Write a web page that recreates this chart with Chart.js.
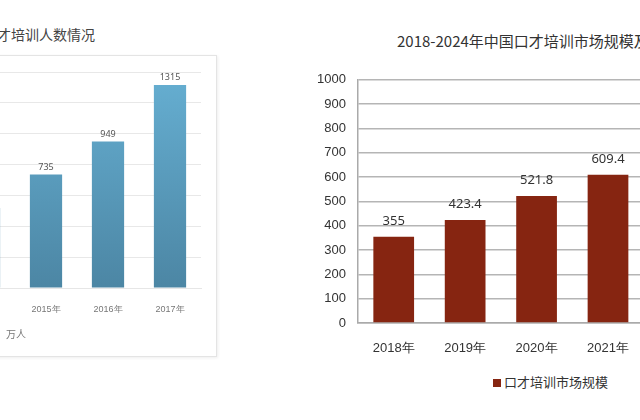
<!DOCTYPE html>
<html>
<head>
<meta charset="utf-8">
<script src="https://cdn.jsdelivr.net/npm/chart.js@4"></script>
<style>
  body { margin:0; width:640px; height:420px; overflow:hidden; background:#fff; position:relative; font-family:"Noto Sans CJK SC", sans-serif; }
  .abs { position:absolute; }
</style>
</head>
<body>
<div class="abs" style="left:-250px;top:24px;width:345px;text-align:right;font-size:14px;color:#444;">2013-2017年中国口才培训人数情况</div>
<div class="abs" style="left:-10px;top:55px;width:225px;height:300px;border:1px solid #e4e4e4;box-shadow:1px 1px 3px #eee;"></div>
<div class="abs" style="left:-47px;top:55px;width:262px;height:300px;"><canvas id="left"></canvas></div>
<div class="abs" style="left:6px;top:326px;font-size:10px;color:#777;">万人</div>

<div class="abs" style="left:397px;top:30px;white-space:nowrap;font-size:15px;color:#333;font-family:'Noto Sans CJK SC',serif;">2018-2024年中国口才培训市场规模及预测</div>
<div class="abs" style="left:295px;top:60px;width:563px;height:300px;"><canvas id="right"></canvas></div>
<div class="abs" style="left:493px;top:372px;white-space:nowrap;font-size:13px;color:#333;"><span style="display:inline-block;width:8px;height:8px;background:#862511;margin-right:3px;"></span>口才培训市场规模</div>

<script>
// 左圖：培訓人數
const leftYears = ['2014年', '2015年', '2016年', '2017年'];
const leftValues = [520, 735, 949, 1315];
// 右圖：市場規模
const rightYears = ['2018年', '2019年', '2020年', '2021年', '2022年', '2023年', '2024年'];
const rightValues = [355, 423.4, 521.8, 609.4, 702.5, 798.6, 893.2];

// 在柱子上方寫數值
const valueLabels = {
  id: 'valueLabels',
  afterDatasetsDraw(chart, args, opts) {
    const ctx = chart.ctx;
    const meta = chart.getDatasetMeta(0);
    ctx.save();
    ctx.font = opts.font;
    ctx.fillStyle = opts.color;
    ctx.textAlign = 'center';
    ctx.textBaseline = 'bottom';
    meta.data.forEach((bar, i) => {
      ctx.fillText(chart.data.datasets[0].data[i], bar.x, bar.y - opts.offset);
    });
    ctx.restore();
  }
};

new Chart(document.getElementById('left').getContext('2d'), {
  type: 'bar',
  data: {
    labels: leftYears,
    datasets: [{
      data: leftValues,
      backgroundColor: (c) => {
        const area = c.chart.chartArea;
        if (!area) return '#5a9fc2';
        const g = c.chart.ctx.createLinearGradient(0, area.top, 0, area.bottom);
        g.addColorStop(0, '#66afd2');
        g.addColorStop(1, '#4c86a4');
        return g;
      },
      barPercentage: 0.52,
      categoryPercentage: 1
    }]
  },
  plugins: [valueLabels],
  options: {
    responsive: true,
    maintainAspectRatio: false,
    animation: false,
    layout: { padding: { top: 17, right: 14 } },
    plugins: {
      legend: { display: false },
      tooltip: { enabled: false },
      valueLabels: { font: '9px "Noto Sans"', color: '#555', offset: 3 }
    },
    scales: {
      x: {
        grid: { display: false },
        border: { color: '#e6e6e6' },
        ticks: { color: '#777', font: { size: 9 }, padding: 8 },
        afterFit: (s) => { s.height = 67; }
      },
      y: {
        min: 0, max: 1400,
        ticks: { display: false, stepSize: 200 },
        border: { display: false },
        grid: { color: '#e8e8e8', drawTicks: false },
        afterFit: (s) => { s.width = 0; }
      }
    }
  }
});

new Chart(document.getElementById('right').getContext('2d'), {
  type: 'bar',
  data: {
    labels: rightYears,
    datasets: [{
      data: rightValues,
      backgroundColor: '#862511',
      barPercentage: 0.57,
      categoryPercentage: 1
    }]
  },
  plugins: [valueLabels],
  options: {
    responsive: true,
    maintainAspectRatio: false,
    animation: false,
    layout: { padding: { top: 13, right: 0, left: 0, bottom: 0 } },
    plugins: {
      legend: { display: false },
      tooltip: { enabled: false },
      valueLabels: { font: '13px "Noto Sans"', color: '#333', offset: 9 }
    },
    scales: {
      x: {
        grid: { display: false },
        border: { color: '#aaa', width: 1.5 },
        ticks: { color: '#333', font: { size: 13 }, padding: 10 },
        afterFit: (s) => { s.height = 37; }
      },
      y: {
        min: 0, max: 1000,
        ticks: { stepSize: 100, color: '#333', font: { size: 13 }, padding: 12, callback: (v) => String(v) },
        border: { color: '#aaa', width: 1.5 },
        grid: { color: '#b5b5b5', lineWidth: 1.5, drawTicks: false },
        afterFit: (s) => { s.width = 63; }
      }
    }
  }
});
</script>
</body>
</html>
